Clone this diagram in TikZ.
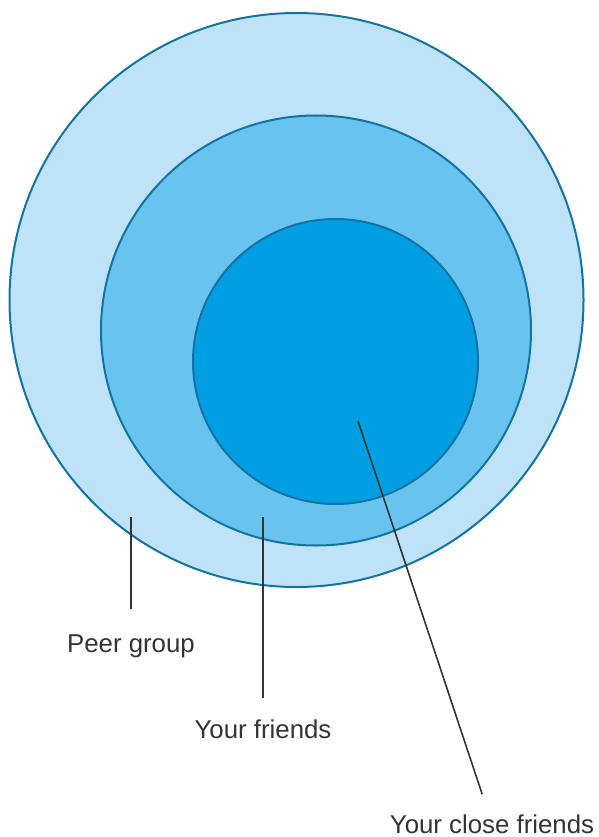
\documentclass[tikz,border=0pt]{standalone}
\usepackage{fontspec}
\setmainfont{Liberation Sans}
\usetikzlibrary{positioning}
\definecolor{ringedge}{HTML}{1373A5}
\definecolor{peerfill}{HTML}{BEE3F8}
\definecolor{friendfill}{HTML}{68C4EF}
\definecolor{closefill}{HTML}{009FE3}
\definecolor{leadgray}{HTML}{333333}

\begin{document}
\begin{tikzpicture}[
  x=1pt, y=-1pt,
  ring/.style={draw=ringedge,line width=2pt,circle,inner sep=0pt},
  lead/.style={draw=leadgray,line width=1.6pt},
  lbl/.style={font=\fontsize{25.8}{30}\selectfont,text=leadgray,inner sep=0pt,anchor=base}
]
\useasboundingbox (0,0) rectangle (599,837);
\node[ring,fill=peerfill,minimum size=574pt] (peer) at (296.5,300) {};
\node[ring,fill=friendfill,minimum size=430pt] (friends) at (316,330.5) {};
\node[ring,fill=closefill,minimum size=285pt] (close) at (335.5,361.5) {};

\coordinate (peertip) at (131,517);
\coordinate (friendtip) at (263,517);
\coordinate (closetip) at (358,421);

\node[lbl] (peerlbl) at (131,652) {Peer group};
\node[lbl] (friendlbl) at (263,738) {Your friends};
\node[lbl] (closelbl) at (492,833) {Your close friends};

\draw[lead,shorten >=25pt] (peertip) -- (peerlbl);
\draw[lead,shorten >=21pt] (friendtip) -- (friendlbl);
\draw[lead,shorten >=21pt] (closetip) -- (closelbl);
\end{tikzpicture}
\end{document}
